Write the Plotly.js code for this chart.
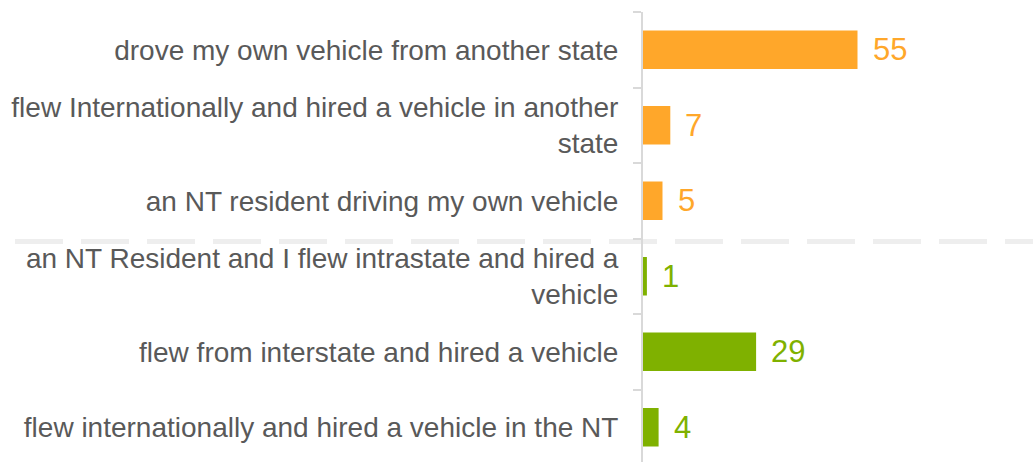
<!DOCTYPE html>
<html>
<head>
<meta charset="utf-8">
<script src="https://cdn.plot.ly/plotly-3.0.1.min.js"></script>
<style>html,body{margin:0;padding:0;background:#fff;overflow:hidden;}#chart{width:1033px;height:465px;}</style>
</head>
<body>
<div id="chart"></div>
<script>
// Data
const categories = [
  "drove my own vehicle from another state",
  "flew Internationally and hired a vehicle in another<br>state",
  "an NT resident driving my own vehicle",
  "an NT Resident and I flew intrastate and hired a<br>vehicle",
  "flew from interstate and hired a vehicle",
  "flew internationally and hired a vehicle in the NT"
];
const values = [55, 7, 5, 1, 29, 4];
const groups = ["other", "other", "other", "nt", "nt", "nt"];

// Styles
const groupColors = {other: "#FFA72A", nt: "#7FB100"};
const barColors = groups.map(g => groupColors[g]);

const trace = {
  type: "bar",
  orientation: "h",
  x: values,
  y: categories,
  marker: {color: barColors},
  hoverinfo: "skip"
};

const annotations = values.map((v, i) => ({
  x: v, y: categories[i], xref: "x", yref: "y",
  text: String(v), showarrow: false, xanchor: "left", yanchor: "middle",
  xshift: 13,
  font: {family: "Arial, 'Liberation Sans', sans-serif", size: 31, color: barColors[i]}
}));

const layout = {
  width: 1033, height: 465,
  margin: {l: 643, r: 0, t: 12, b: 0},
  paper_bgcolor: "#fff", plot_bgcolor: "#fff",
  showlegend: false,
  bargap: 0.49,
  font: {family: "Arial, 'Liberation Sans', sans-serif", color: "#595959", size: 28},
  xaxis: {range: [0, 100], visible: false, showgrid: false, zeroline: false, fixedrange: true},
  yaxis: {
    type: "category", autorange: "reversed",
    showline: true, linecolor: "#d9d9d9", linewidth: 2,
    ticks: "outside", tickson: "boundaries", ticklen: 8, tickwidth: 2, tickcolor: "#d9d9d9",
    ticklabelstandoff: 17,
    showgrid: false, zeroline: false,
    tickfont: {size: 28, color: "#595959"}
  },
  annotations: annotations,
  shapes: [{
    type: "line", xref: "paper", yref: "y",
    x0: (15 - 643) / 390, x1: 1, y0: 2.54, y1: 2.54,
    line: {color: "#eeeeee", width: 5, dash: "48px,18px"},
    layer: "below"
  }]
};

Plotly.newPlot("chart", [trace], layout, {displayModeBar: false, staticPlot: true});
</script>
</body>
</html>
